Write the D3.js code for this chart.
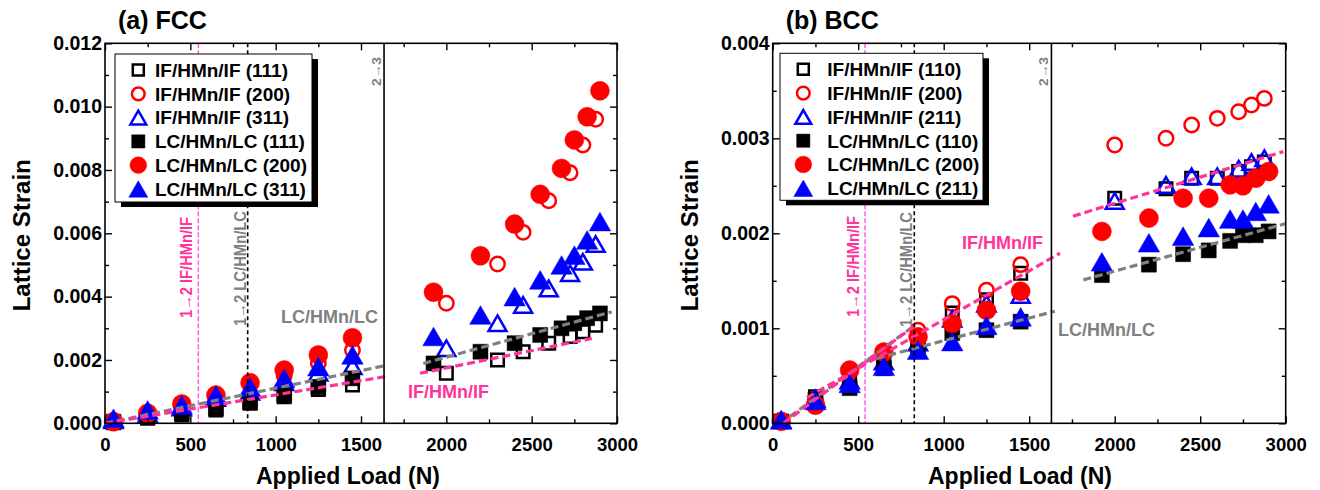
<!DOCTYPE html>
<html>
<head>
<meta charset="utf-8">
<script src="https://cdn.jsdelivr.net/npm/d3@7"></script>
<style>
  body { margin: 0; background: #fff; }
  svg text { font-family: "Liberation Sans", Arial, sans-serif; font-weight: bold; }
</style>
</head>
<body>
<svg id="chart" width="1320" height="490"></svg>
<script>
// applied load (N)
const loadStage12 = [50, 250, 450, 650, 850, 1050, 1250, 1450];
const loadLC3 = [1925, 2200, 2400, 2550, 2675, 2750, 2825, 2900];
const loadIF3 = [2000, 2300, 2450, 2600, 2725, 2800, 2875];

// (a) FCC lattice strain
const fccIF111 = [0.00002, 0.00016, 0.00026, 0.00042, 0.00063, 0.00084, 0.00107, 0.00121,
                  0.00158, 0.00200, 0.00226, 0.00253, 0.00274, 0.00289, 0.00310];
const fccIF200 = [0.00003, 0.00025, 0.00055, 0.00085, 0.00120, 0.00150, 0.00190, 0.00231,
                  0.00379, 0.00503, 0.00603, 0.00703, 0.00791, 0.00879, 0.00960];
const fccIF311 = [0.00010, 0.00030, 0.00050, 0.00080, 0.00100, 0.00130, 0.00160, 0.00180,
                  0.00237, 0.00316, 0.00374, 0.00426, 0.00474, 0.00510, 0.00566];
const fccLC111 = [0.00005, 0.00021, 0.00032, 0.00047, 0.00068, 0.00089, 0.00114, 0.00142,
                  0.00189, 0.00226, 0.00253, 0.00279, 0.00300, 0.00316, 0.00332, 0.00347];
const fccLC200 = [0.00005, 0.00032, 0.00061, 0.00089, 0.00128, 0.00168, 0.00216, 0.00270,
                  0.00414, 0.00529, 0.00629, 0.00723, 0.00805, 0.00895, 0.00968, 0.01050];
const fccLC311 = [0.00016, 0.00042, 0.00058, 0.00089, 0.00114, 0.00142, 0.00179, 0.00216,
                  0.00274, 0.00342, 0.00400, 0.00453, 0.00500, 0.00531, 0.00579, 0.00637];

// (b) BCC lattice strain
const bccIF110 = [0.00002, 0.00028, 0.00045, 0.00065, 0.00088, 0.00116, 0.00130, 0.00158,
                  0.00237, 0.00247, 0.00258, 0.00258, 0.00265, 0.00270, 0.00275];
const bccIF200 = [0.00003, 0.00025, 0.00055, 0.00075, 0.00098, 0.00126, 0.00140, 0.00167,
                  0.00293, 0.00300, 0.00314, 0.00321, 0.00328, 0.00335, 0.00342];
const bccIF211 = [0.00003, 0.00026, 0.00045, 0.00065, 0.00085, 0.00110, 0.00126, 0.00135,
                  0.00234, 0.00251, 0.00260, 0.00260, 0.00268, 0.00275, 0.00279];
const bccLC110 = [0.00002, 0.00025, 0.00037, 0.00058, 0.00081, 0.00095, 0.00098, 0.00107,
                  0.00156, 0.00167, 0.00178, 0.00182, 0.00192, 0.00198, 0.00198, 0.00202];
const bccLC200 = [0.00002, 0.00019, 0.00056, 0.00075, 0.00091, 0.00105, 0.00119, 0.00139,
                  0.00202, 0.00216, 0.00237, 0.00237, 0.00251, 0.00250, 0.00258, 0.00265];
const bccLC211 = [0.00004, 0.00024, 0.00042, 0.00060, 0.00077, 0.00086, 0.00103, 0.00112,
                  0.00170, 0.00190, 0.00197, 0.00206, 0.00215, 0.00215, 0.00223, 0.00231];

// dashed fit lines, [load, strain] end points
const fccFitLC = [[[0, 0], [1650, 0.00183]], [[1865, 0.00189], [2969, 0.00352]]];
const fccFitIF = [[[0, 0], [1650, 0.00148]], [[1846, 0.00158], [2852, 0.00268]]];
const bccFitLC = [[[100, 0.00007], [830, 0.00103]], [[540, 0.00065], [1650, 0.00118]], [[1817, 0.00151], [2996, 0.00210]]];
const bccFitIF = [[[62, 0], [840, 0.00104]], [[200, 0.00027], [1680, 0.00179]], [[1756, 0.00218], [2986, 0.00286]]];

// stage boundaries (N): 1->2 IF, 1->2 LC, 2->3
const fccStages = [547, 836, 1635];
const bccStages = [540, 828, 1630];

const xTicks = [0, 500, 1000, 1500, 2000, 2500, 3000];
const fccYTicks = [0, 0.002, 0.004, 0.006, 0.008, 0.010, 0.012];
const bccYTicks = [0, 0.001, 0.002, 0.003, 0.004];

const svg = d3.select("#chart");
const PINK = "#ff3399", GREY = "#808080";

function seriesOf(IF1, IF2, IF3, LC1, LC2, LC3, planes) {
  const xIF = loadStage12.concat(loadIF3), xLC = loadStage12.concat(loadLC3);
  return [
    {name: "IF/HMn/IF (" + planes[0] + ")", shape: "square", color: "#000", fill: false, x: xIF, y: IF1},
    {name: "IF/HMn/IF (" + planes[1] + ")", shape: "circle", color: "#ff0000", fill: false, x: xIF, y: IF2},
    {name: "IF/HMn/IF (" + planes[2] + ")", shape: "triangle", color: "#0000ff", fill: false, x: xIF, y: IF3},
    {name: "LC/HMn/LC (" + planes[0] + ")", shape: "square", color: "#000", fill: true, x: xLC, y: LC1},
    {name: "LC/HMn/LC (" + planes[1] + ")", shape: "circle", color: "#ff0000", fill: true, x: xLC, y: LC2},
    {name: "LC/HMn/LC (" + planes[2] + ")", shape: "triangle", color: "#0000ff", fill: true, x: xLC, y: LC3}
  ];
}

function markerPath(shape, filled, k) {
  if (shape === "square") {
    const s = (filled ? 15 : 12.5) * k;
    return `M${-s / 2},${-s / 2}h${s}v${s}h${-s}Z`;
  }
  if (shape === "triangle") {
    const a = (filled ? 21.5 : 18) * k, h = a * 0.866;
    return `M0,${-h / 2}L${a / 2},${h / 2}L${-a / 2},${h / 2}Z`;
  }
  const r = (filled ? 9.5 : 7.2) * k;
  return `M${r},0A${r},${r} 0 1,1 ${-r},0A${r},${r} 0 1,1 ${r},0Z`;
}

function addMarker(g, d, k) {
  return g.append("path")
    .attr("d", markerPath(d.shape, d.fill, k))
    .attr("fill", d.fill ? d.color : "none")
    .attr("stroke", d.color)
    .attr("stroke-width", d.fill ? 0.5 : 2.5);
}

function vText(g, x, y, txt, size, color, len) {
  const t = g.append("text")
    .attr("transform", `translate(${x},${y}) rotate(-90)`)
    .attr("font-size", size)
    .attr("fill", color)
    .text(txt);
  if (len) t.attr("textLength", len).attr("lengthAdjust", "spacingAndGlyphs");
  return t;
}

function drawPanel(p) {
  const x = d3.scaleLinear().domain([0, 3000]).range([p.left, p.right]);
  const y = d3.scaleLinear().domain([0, p.yMax]).range([p.bottom, p.top]);
  const g = svg.append("g");

  // markers: IF first, LC on top
  p.series.forEach(s => {
    const sg = g.append("g");
    s.y.forEach((v, i) => {
      addMarker(sg, s, 1).attr("transform", `translate(${x(s.x[i])},${y(v)})`);
    });
  });

  // fit lines
  const line = d3.line().x(d => x(d[0])).y(d => y(d[1]));
  [[p.fitLC, GREY], [p.fitIF, PINK]].forEach(([segs, c]) => {
    segs.forEach(seg => {
      g.append("path").attr("d", line(seg))
        .attr("fill", "none").attr("stroke", c)
        .attr("stroke-width", 3.2).attr("stroke-dasharray", "8,4");
    });
  });

  // stage boundaries
  g.append("line").attr("x1", x(p.stages[0])).attr("x2", x(p.stages[0]))
    .attr("y1", p.top).attr("y2", p.bottom)
    .attr("stroke", "#ff55ee").attr("stroke-width", 1.4).attr("stroke-dasharray", "5,2");
  g.append("line").attr("x1", x(p.stages[1])).attr("x2", x(p.stages[1]))
    .attr("y1", p.top).attr("y2", p.bottom)
    .attr("stroke", "#000").attr("stroke-width", 1.6).attr("stroke-dasharray", "4,3");
  g.append("line").attr("x1", x(p.stages[2])).attr("x2", x(p.stages[2]))
    .attr("y1", p.top).attr("y2", p.bottom)
    .attr("stroke", "#000").attr("stroke-width", 1.6);

  vText(g, x(p.stages[0]) - 6, p.pinkLabelY, "1\u21922 IF/HMn/IF", 16, PINK, 101);
  vText(g, x(p.stages[1]) - 2, p.greyLabelY, "1\u21922 LC/HMn/LC", 17, GREY, 115);
  vText(g, x(p.stages[2]) - 3, 86, "2\u21923", 13, GREY, 29);

  // fit labels
  g.append("text").attr("x", p.lcLabel[0]).attr("y", p.lcLabel[1])
    .attr("font-size", 18).attr("fill", GREY).text("LC/HMn/LC");
  g.append("text").attr("x", p.ifLabel[0]).attr("y", p.ifLabel[1])
    .attr("font-size", 18).attr("fill", PINK).text("IF/HMn/IF");

  // axes: inward ticks on all four sides
  const minorX = d3.range(0, 3001, 250).filter(v => v % 500 !== 0);
  const minorY = d3.range(0, p.yTicks.length * 2 - 1).map(i => i * p.yTicks[1] / 2)
    .filter((v, i) => i % 2 === 1);
  const axes = [
    [d3.axisBottom(x).tickValues(xTicks).tickSize(-7).tickPadding(15).tickFormat(d3.format("d")), `translate(0,${p.bottom})`, 18.5],
    [d3.axisBottom(x).tickValues(minorX).tickSize(-4).tickFormat(""), `translate(0,${p.bottom})`],
    [d3.axisTop(x).tickValues(xTicks).tickSize(-7).tickFormat(""), `translate(0,${p.top})`],
    [d3.axisTop(x).tickValues(minorX).tickSize(-4).tickFormat(""), `translate(0,${p.top})`],
    [d3.axisLeft(y).tickValues(p.yTicks).tickSize(-7).tickPadding(3).tickFormat(d3.format(".3f")), `translate(${p.left},0)`, 19.5],
    [d3.axisLeft(y).tickValues(minorY).tickSize(-4).tickFormat(""), `translate(${p.left},0)`],
    [d3.axisRight(y).tickValues(p.yTicks).tickSize(-7).tickFormat(""), `translate(${p.right},0)`],
    [d3.axisRight(y).tickValues(minorY).tickSize(-4).tickFormat(""), `translate(${p.right},0)`]
  ];
  axes.forEach(([ax, tr, fs]) => {
    const a = g.append("g").attr("transform", tr).call(ax);
    a.select(".domain").remove();
    a.selectAll("line").attr("stroke", "#000").attr("stroke-width", 1.4);
    a.selectAll("text").attr("font-size", fs || 18).attr("fill", "#000")
      .attr("font-family", '"Liberation Sans", Arial, sans-serif').attr("font-weight", "bold");
  });
  g.append("rect").attr("x", p.left).attr("y", p.top)
    .attr("width", p.right - p.left).attr("height", p.bottom - p.top)
    .attr("fill", "none").attr("stroke", "#000").attr("stroke-width", 1.6);

  // axis titles
  g.append("text").attr("x", p.xTitleX).attr("y", 484).attr("text-anchor", "middle")
    .attr("font-size", 23).text("Applied Load (N)");
  g.append("text").attr("transform", `translate(${p.left - 75},${(p.top + p.bottom) / 2 + 2}) rotate(-90)`)
    .attr("text-anchor", "middle").attr("font-size", 24).text("Lattice Strain");
  g.append("text").attr("x", p.left + 13).attr("y", 29).attr("font-size", 25).text(p.title);

  // legend with drop shadow
  const L = p.legend;
  const lg = g.append("g");
  lg.append("rect").attr("x", L.x + 6).attr("y", L.y + 5).attr("width", L.w).attr("height", L.h).attr("fill", "#000");
  lg.append("rect").attr("x", L.x).attr("y", L.y).attr("width", L.w).attr("height", L.h)
    .attr("fill", "#fff").attr("stroke", "#000").attr("stroke-width", 1);
  p.series.forEach((s, i) => {
    const cy = L.y + 16 + i * 23.8;
    addMarker(lg, s, 0.88).attr("transform", `translate(${L.symX},${cy})`);
    lg.append("text").attr("x", L.textX).attr("y", cy + 6.8).attr("font-size", 19).text(s.name);
  });
}

drawPanel({
  title: "(a) FCC", left: 105, right: 617, top: 43.3, bottom: 423.3, yMax: 0.012, yTicks: fccYTicks,
  series: seriesOf(fccIF111, fccIF200, fccIF311, fccLC111, fccLC200, fccLC311, ["111", "200", "311"]),
  fitLC: fccFitLC, fitIF: fccFitIF, stages: fccStages,
  pinkLabelY: 318, greyLabelY: 326,
  lcLabel: [281, 323], ifLabel: [408, 398], xTitleX: 348,
  legend: {x: 115, y: 54, w: 197, h: 148, symX: 138.3, textX: 155}
});

drawPanel({
  title: "(b) BCC", left: 772.7, right: 1285.7, top: 43.3, bottom: 423.3, yMax: 0.004, yTicks: bccYTicks,
  series: seriesOf(bccIF110, bccIF200, bccIF211, bccLC110, bccLC200, bccLC211, ["110", "200", "211"]),
  fitLC: bccFitLC, fitIF: bccFitIF, stages: bccStages,
  pinkLabelY: 317, greyLabelY: 327,
  lcLabel: [1058, 335.5], ifLabel: [962, 249], xTitleX: 1020,
  legend: {x: 780, y: 53.3, w: 203, h: 147, symX: 803.3, textX: 827.3}
});
</script>
</body>
</html>
